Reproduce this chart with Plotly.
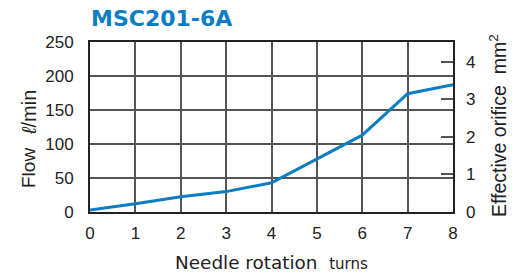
import plotly.graph_objects as go

turns = [0, 1, 2, 3, 4, 5, 6, 7, 8]
flow = [3, 12, 22.5, 30, 43, 77.5, 113, 174, 187]
x_ticks = [0, 1, 2, 3, 4, 5, 6, 7, 8]
flow_ticks = [0, 50, 100, 150, 200, 250]
orifice_ticks = [0, 1, 2, 3, 4]

BLUE = "#0b7dc3"
GRID = "#555555"
TXT = "#222222"
FONT = "Liberation Sans, Arial, sans-serif"
WIDE = "DejaVu Sans, sans-serif"

W, H = 518, 275
L, R, T, B = 90, 65, 42, 63

fig = go.Figure()
fig.add_trace(go.Scatter(x=turns, y=flow, mode="lines",
                         line=dict(color=BLUE, width=3), showlegend=False,
                         hoverinfo="skip"))
# empty trace so the right-hand axis is drawn
fig.add_trace(go.Scatter(x=[], y=[], yaxis="y2", showlegend=False, hoverinfo="skip"))

fig.update_layout(
    width=W, height=H,
    margin=dict(l=L, r=R, t=T, b=B),
    paper_bgcolor="white", plot_bgcolor="white",
    font=dict(family=FONT, color=TXT, size=17),
    xaxis=dict(range=[0, 8], tickvals=x_ticks, showgrid=True, gridcolor=GRID,
               gridwidth=1.5, showline=True, linecolor="#222", linewidth=2,
               mirror=True, ticks="", zeroline=False, ticklabelstandoff=5,
               tickfont=dict(size=17, color=TXT)),
    yaxis=dict(range=[0, 250], tickvals=flow_ticks, showgrid=True, gridcolor=GRID,
               gridwidth=1.5, showline=True, linecolor="#222", linewidth=2,
               mirror=True, ticks="", zeroline=False, ticklabelstandoff=11,
               tickfont=dict(size=17, color=TXT)),
    yaxis2=dict(range=[0, 4.52], tickvals=orifice_ticks, overlaying="y", side="right",
                showgrid=False, zeroline=False, showline=False, ticks="inside",
                ticklen=12, tickwidth=1.5, tickcolor=GRID, ticklabelstandoff=12,
                tickfont=dict(size=17, color=TXT)),
)

annotations = [
    dict(text="<b>MSC201-6A</b>", x=89, y=18, font=dict(size=22, color=BLUE, family=WIDE),
         xanchor="left"),
    dict(text="Needle rotation  <span style='font-size:15px'>turns</span>",
         x=271, y=262, font=dict(size=18.4, color=TXT, family=WIDE)),
    dict(text="Flow", x=28, y=168, textangle=-90, font=dict(size=19, color=TXT)),
    dict(text="<i>ℓ</i>/min", x=29, y=113, textangle=-90, font=dict(size=20, color=TXT)),
    dict(text="Effective orifice  mm<sup>2</sup>",
         x=498, y=126, textangle=-90, font=dict(size=19.5, color=TXT)),
]
for a in annotations:
    d = dict(showarrow=False, xanchor="center", yanchor="middle")
    d.update(a)
    d["xref"] = "paper"
    d["yref"] = "paper"
    px, py = a["x"], a["y"]
    d["x"] = (px - L) / (W - L - R)
    d["y"] = 1 - (py - T) / (H - T - B)
    fig.add_annotation(**d)

fig.write_html("out.html", config={"displayModeBar": False},
               post_script="document.body.style.margin='0';document.body.style.padding='0';")
